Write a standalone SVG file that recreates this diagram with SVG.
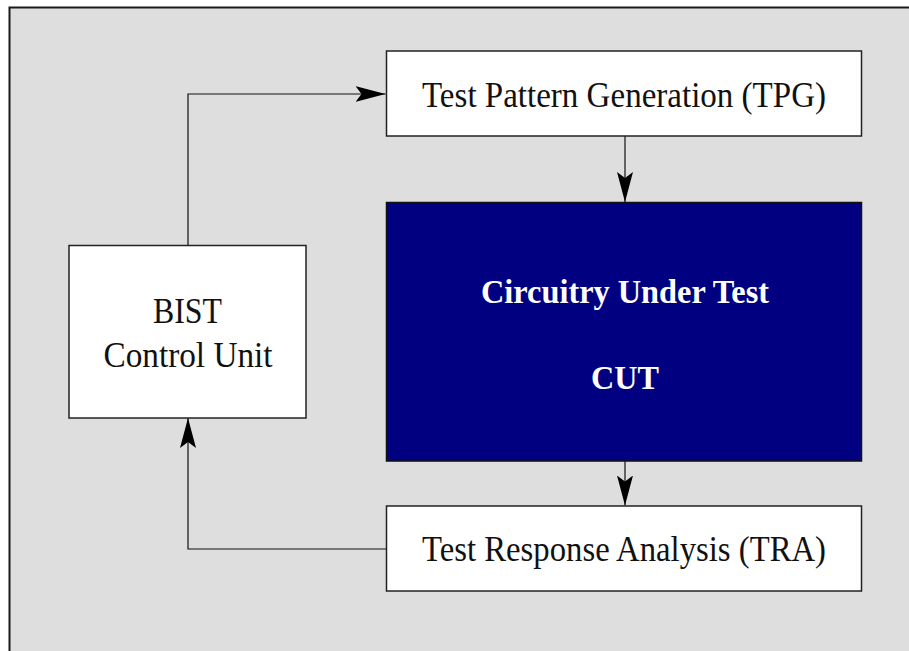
<svg xmlns="http://www.w3.org/2000/svg" width="909" height="651" viewBox="0 0 909 651">
  <style>
    .box { fill: #ffffff; stroke: #222222; stroke-width: 1.5; }
    .cut { fill: #000080; stroke: #111111; stroke-width: 1.5; }
    .lbl { font-family: "Liberation Serif", "Times New Roman", serif; font-size: 35px; fill: #111111; text-anchor: middle; }
    .lbl-b { font-family: "Liberation Serif", "Times New Roman", serif; font-size: 34px; font-weight: bold; fill: #ffffff; text-anchor: middle; }
    .wire { fill: none; stroke: #111111; stroke-width: 1.2; }
  </style>
  <defs>
    <marker id="arrow" viewBox="0 0 30 16" refX="30" refY="8" markerWidth="30" markerHeight="16" markerUnits="userSpaceOnUse" orient="auto">
      <path d="M0,0 L30,8 L0,16 L6,8 Z" fill="#000000"/>
    </marker>
  </defs>

  <!-- page background and frame -->
  <rect x="0" y="0" width="909" height="651" fill="#ffffff"/>
  <rect x="9.5" y="7.5" width="930" height="670" fill="#dedede" stroke="#1a1a1a" stroke-width="2"/>

  <!-- connectors -->
  <g id="connectors">
    <path class="wire" d="M188,245.5 V94 H385.5" marker-end="url(#arrow)"/>
    <path class="wire" d="M625,136 V202" marker-end="url(#arrow)"/>
    <path class="wire" d="M625,461 V505.5" marker-end="url(#arrow)"/>
    <path class="wire" d="M386.5,549 H188 V418" marker-end="url(#arrow)"/>
  </g>

  <g id="tpg">
    <rect class="box" x="386.5" y="51" width="475" height="85"/>
    <text class="lbl" x="624" y="107" textLength="404" lengthAdjust="spacingAndGlyphs">Test Pattern Generation (TPG)</text>
  </g>

  <g id="cut">
    <rect class="cut" x="386.5" y="202.5" width="475" height="258.5"/>
    <text class="lbl-b" x="625" y="303" textLength="288" lengthAdjust="spacingAndGlyphs">Circuitry Under Test</text>
    <text class="lbl-b" x="625" y="389" textLength="68" lengthAdjust="spacingAndGlyphs">CUT</text>
  </g>

  <g id="tra">
    <rect class="box" x="386.5" y="506" width="475" height="85"/>
    <text class="lbl" x="624" y="561" textLength="404" lengthAdjust="spacingAndGlyphs">Test Response Analysis (TRA)</text>
  </g>

  <g id="bist">
    <rect class="box" x="69" y="245.5" width="237" height="172.5"/>
    <text class="lbl" x="187.5" y="323" textLength="69" lengthAdjust="spacingAndGlyphs">BIST</text>
    <text class="lbl" x="188" y="367" textLength="169" lengthAdjust="spacingAndGlyphs">Control Unit</text>
  </g>
</svg>
